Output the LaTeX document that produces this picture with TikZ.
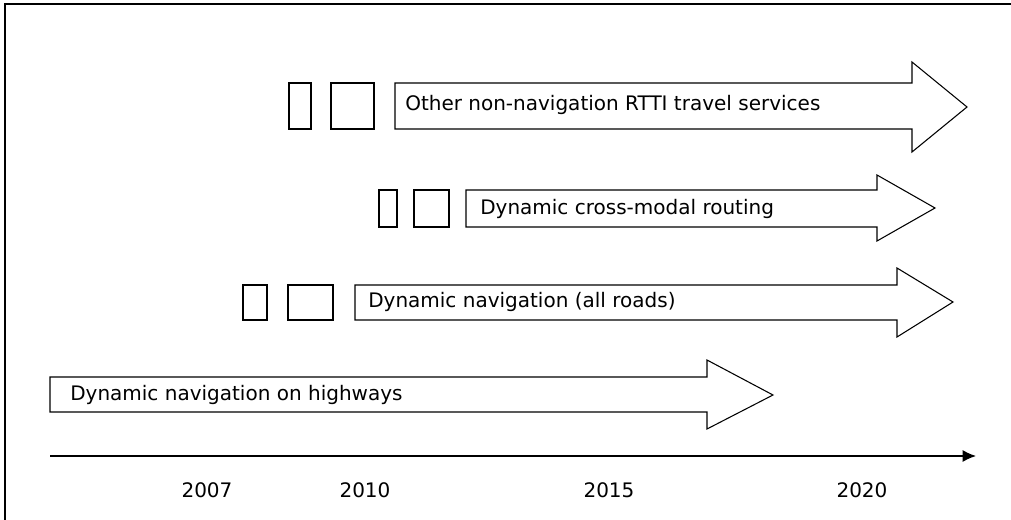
\documentclass[tikz,border=0pt]{standalone}
\usepackage{fontspec}
\setmainfont{DejaVu Sans}
\usetikzlibrary{arrows.meta}
\begin{document}
\begin{tikzpicture}[x=0.75pt,y=-0.75pt,
  shp/.style={draw=black,line width=0.8pt,fill=white},
  lbl/.style={anchor=west,inner sep=0pt,font=\fontsize{15}{18}\selectfont},
  yr/.style={inner sep=0pt,font=\fontsize{15}{18}\selectfont}]
\useasboundingbox (0,0) rectangle (1011,520);
% frame
\draw[line width=1.2pt] (5,540) -- (5,4) -- (1030,4);
% arrow 1
\draw[shp] (289,83) rectangle (311,129);
\draw[shp] (331,83) rectangle (374,129);
\draw[shp] (395,83) -- (912,83) -- (912,62) -- (967,107) -- (912,152) -- (912,129) -- (395,129) -- cycle;
\node[lbl] (a1) at (405,105) {Other non-navigation RTTI travel services};
% arrow 2
\draw[shp] (379,190) rectangle (397,227);
\draw[shp] (414,190) rectangle (449,227);
\draw[shp] (466,190) -- (877,190) -- (877,175) -- (935,208) -- (877,241) -- (877,227) -- (466,227) -- cycle;
\node[lbl] (a2) at (480,209) {Dynamic cross-modal routing};
% arrow 3
\draw[shp] (243,285) rectangle (267,320);
\draw[shp] (288,285) rectangle (333,320);
\draw[shp] (355,285) -- (897,285) -- (897,268) -- (953,302) -- (897,337) -- (897,320) -- (355,320) -- cycle;
\node[lbl] (a3) at (368,302) {Dynamic navigation (all roads)};
% arrow 4
\draw[shp] (50,377) -- (707,377) -- (707,360) -- (773,395) -- (707,429) -- (707,412) -- (50,412) -- cycle;
\node[lbl] (a4) at (70,395) {Dynamic navigation on highways};
% axis
\coordinate (ax0) at (50,456);
\coordinate (ax1) at (976,456);
\draw[line width=1.1pt,-{Latex[length=10pt,width=9pt]}] (ax0) -- (ax1);
\node[yr] (y1) at (207,490) {2007};
\node[yr] (y2) at (365,490) {2010};
\node[yr] (y3) at (609,490) {2015};
\node[yr] (y4) at (862,490) {2020};
\end{tikzpicture}
\end{document}
